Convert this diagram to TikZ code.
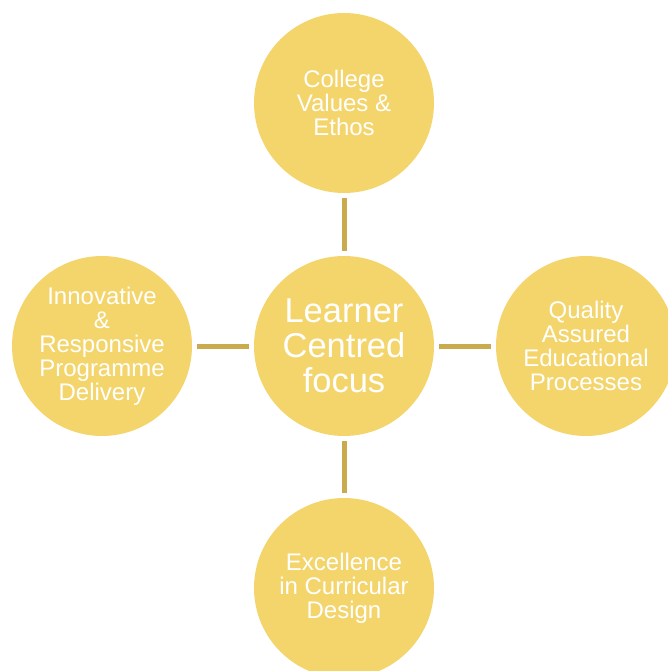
\documentclass[tikz,border=0pt]{standalone}
\usepackage{fontspec}
\setmainfont{Liberation Sans}
\usetikzlibrary{positioning}

\definecolor{petal}{HTML}{F3D56C}
\definecolor{stem}{HTML}{C9AA4C}

\begin{document}
\begin{tikzpicture}[x=1pt,y=-1pt,
  pillar/.style={circle,fill=petal,minimum size=180pt,inner sep=0pt,
    text=white,align=center,font=\fontsize{24}{24}\selectfont},
  hub/.style={pillar,font=\fontsize{34.5}{35}\selectfont},
  link/.style={stem,line width=5pt,shorten <=5pt,shorten >=5pt}]
\clip (0,0) rectangle (668,671);
\node[hub] (focus) at (344,346) {Learner\\Centred\\focus};
\node[pillar] (values) at (344,103) {College\\Values \&\\Ethos};
\node[pillar] (delivery) at (102,346) {Innovative\\\&\\Responsive\\Programme\\Delivery};
\node[pillar] (quality) at (586,346) {Quality\\Assured\\Educational\\Processes};
\node[pillar] (design) at (344,588) {Excellence\\in Curricular\\Design};
\draw[link] (values) -- (focus);
\draw[link] (delivery) -- (focus);
\draw[link] (focus) -- (quality);
\draw[link] (focus) -- (design);
\end{tikzpicture}
\end{document}
